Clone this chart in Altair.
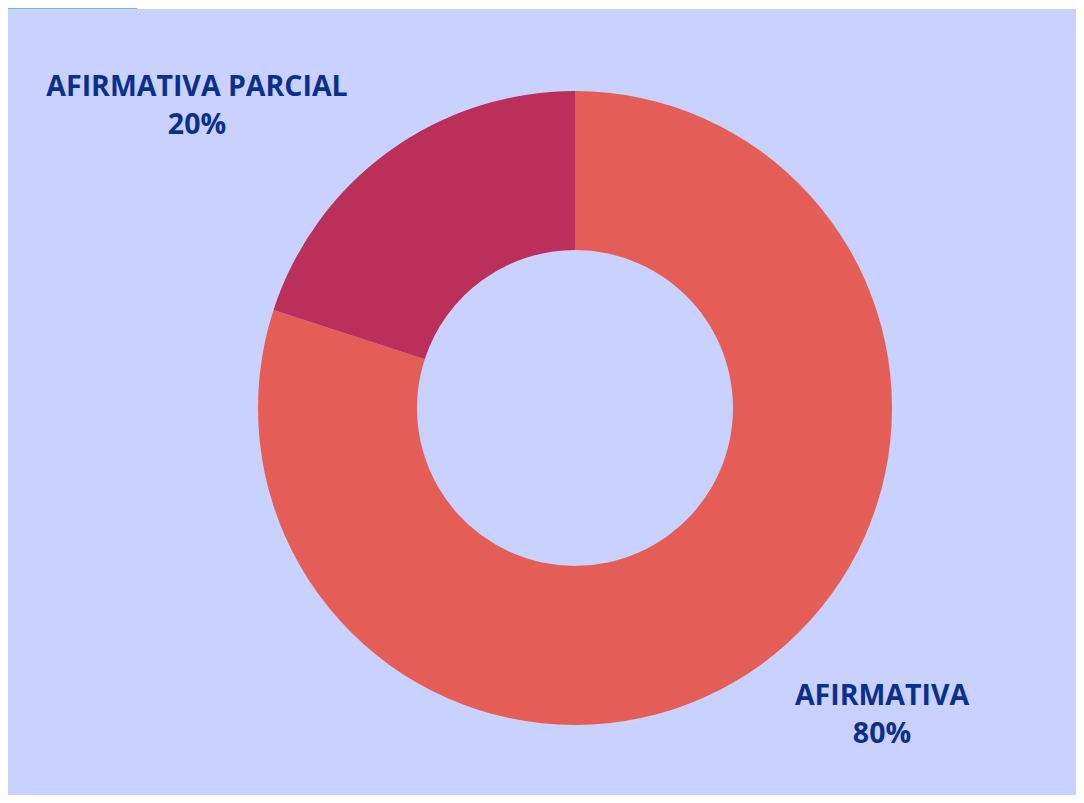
import altair as alt
import pandas as pd

categories = ["AFIRMATIVA", "AFIRMATIVA PARCIAL"]
values = [80, 20]
pct_labels = ["80%", "20%"]
colors = ["#E45E57", "#BB2F5B"]

df = pd.DataFrame({"categoria": categories, "valor": values, "pct": pct_labels,
                   "orden": [0, 1]})

W, H = 1068, 787
CX, CY = 567, 400

base = alt.Chart(df)

donut = base.mark_arc(outerRadius=317, innerRadius=158, stroke=None).encode(
    theta=alt.Theta("valor:Q", stack=True),
    order=alt.Order("orden:Q"),
    color=alt.Color("categoria:N", scale=alt.Scale(domain=categories, range=colors), legend=None),
    x=alt.value(CX),
    y=alt.value(CY),
)

def label(cat, x, y):
    return base.transform_filter(alt.datum.categoria == cat).transform_calculate(
        lab="datum.categoria + '\\n' + datum.pct"
    ).mark_text(
        font="Open Sans", fontWeight="bold", fontSize=28.5, color="#0B2F8C",
        align="center", baseline="middle", lineBreak="\n", lineHeight=38,
    ).encode(text="lab:N", x=alt.value(x), y=alt.value(y))

green = alt.Chart(pd.DataFrame({"a": [0]})).mark_rect(color="#5FC4AA").encode(
    x=alt.value(0), x2=alt.value(129), y=alt.value(0), y2=alt.value(1))
white = alt.Chart(pd.DataFrame({"a": [0]})).mark_rect(color="#FFFFFF").encode(
    x=alt.value(129), x2=alt.value(W), y=alt.value(0), y2=alt.value(1))

chart = alt.layer(
    donut, label(categories[1], 189, 79), label(categories[0], 874, 688), green, white
).properties(
    width=W, height=H, background="#C9D1FF", padding=0,
    autosize=alt.AutoSizeParams(type="none"),
).configure_view(stroke=None)

chart.save("out.html", embed_options={"renderer": "svg", "actions": False})
